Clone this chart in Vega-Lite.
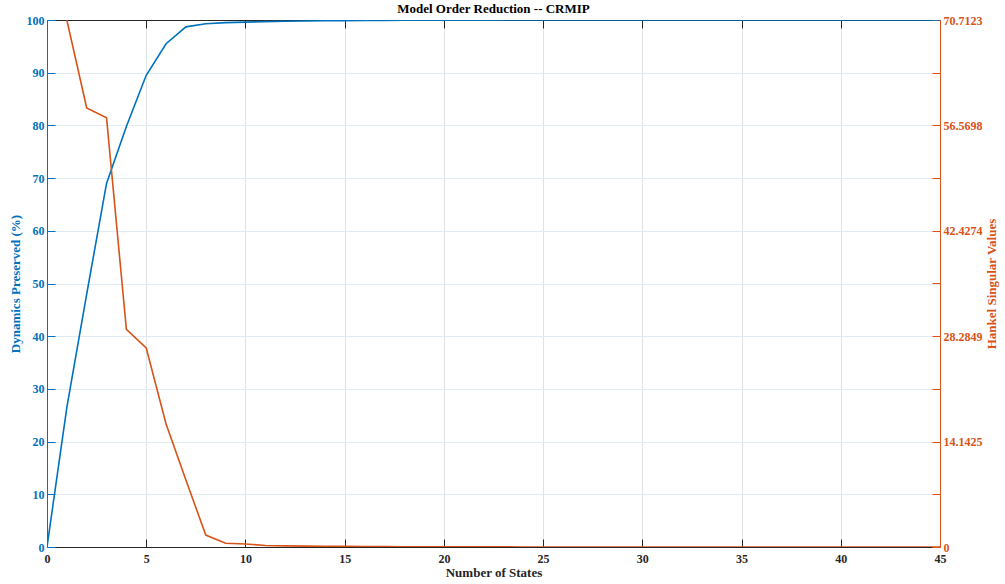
{
  "$schema": "https://vega.github.io/schema/vega-lite/v6.json",
  "width": 893,
  "height": 527,
  "autosize": {"type": "none"},
  "padding": {"left": 47, "top": 20, "right": 65, "bottom": 37},
  "background": "white",
  "title": {"text": "Model Order Reduction -- CRMIP", "font": "Liberation Serif", "fontSize": 13, "fontWeight": "bold", "color": "#000000", "offset": -2, "anchor": "middle"},
  "config": {
    "view": {"stroke": null},
    "axis": {"labelFont": "Liberation Serif", "titleFont": "Liberation Serif", "labelFontWeight": "bold", "titleFontWeight": "bold", "labelFontSize": 12, "titleFontSize": 13, "tickSize": -8, "tickWidth": 1, "domainWidth": 1}
  },
  "data": {"values": [
    {"n": 0, "preserved": 0, "hsv": null},
    {"n": 1, "preserved": 26.5, "hsv": 70.7123},
    {"n": 2, "preserved": 48.0, "hsv": 58.9},
    {"n": 3, "preserved": 69.0, "hsv": 57.6},
    {"n": 4, "preserved": 79.8, "hsv": 29.2},
    {"n": 5, "preserved": 89.5, "hsv": 26.7},
    {"n": 6, "preserved": 95.5, "hsv": 16.5},
    {"n": 7, "preserved": 98.7, "hsv": 9.0},
    {"n": 8, "preserved": 99.3, "hsv": 1.6},
    {"n": 9, "preserved": 99.5, "hsv": 0.5},
    {"n": 10, "preserved": 99.6, "hsv": 0.4},
    {"n": 11, "preserved": 99.7, "hsv": 0.2},
    {"n": 12, "preserved": 99.76, "hsv": 0.15},
    {"n": 13, "preserved": 99.81, "hsv": 0.12},
    {"n": 14, "preserved": 99.85, "hsv": 0.1},
    {"n": 15, "preserved": 99.88, "hsv": 0.08},
    {"n": 16, "preserved": 99.91, "hsv": 0.06},
    {"n": 17, "preserved": 99.93, "hsv": 0.05},
    {"n": 18, "preserved": 99.95, "hsv": 0.04},
    {"n": 19, "preserved": 99.96, "hsv": 0.03},
    {"n": 20, "preserved": 99.97, "hsv": 0.025},
    {"n": 21, "preserved": 99.98, "hsv": 0.02},
    {"n": 22, "preserved": 99.985, "hsv": 0.016},
    {"n": 23, "preserved": 99.99, "hsv": 0.013},
    {"n": 24, "preserved": 99.993, "hsv": 0.01},
    {"n": 25, "preserved": 99.995, "hsv": 0.008},
    {"n": 26, "preserved": 99.996, "hsv": 0.006},
    {"n": 27, "preserved": 99.997, "hsv": 0.005},
    {"n": 28, "preserved": 99.998, "hsv": 0.004},
    {"n": 29, "preserved": 99.999, "hsv": 0.003},
    {"n": 30, "preserved": 99.999, "hsv": 0.002},
    {"n": 31, "preserved": 100, "hsv": 0.002},
    {"n": 32, "preserved": 100, "hsv": 0.001},
    {"n": 33, "preserved": 100, "hsv": 0.001},
    {"n": 34, "preserved": 100, "hsv": 0.001},
    {"n": 35, "preserved": 100, "hsv": 0.0005},
    {"n": 36, "preserved": 100, "hsv": 0.0005},
    {"n": 37, "preserved": 100, "hsv": 0.0003},
    {"n": 38, "preserved": 100, "hsv": 0.0002},
    {"n": 39, "preserved": 100, "hsv": 0.0001},
    {"n": 40, "preserved": 100, "hsv": 0.0001},
    {"n": 41, "preserved": 100, "hsv": 0.0001},
    {"n": 42, "preserved": 100, "hsv": 0.0},
    {"n": 43, "preserved": 100, "hsv": 0.0},
    {"n": 44, "preserved": 100, "hsv": 0.0},
    {"n": 45, "preserved": 100, "hsv": 0.0}
  ]},
  "layer": [
    {
      "mark": {"type": "line", "color": "#0072BD", "strokeWidth": 1.6, "clip": true},
      "encoding": {
        "x": {"field": "n", "type": "quantitative", "scale": {"domain": [0, 45], "nice": false, "zero": false},
          "axis": {"orient": "bottom", "title": "Number of States", "values": [0,5,10,15,20,25,30,35,40,45], "labelColor": "#262626", "titleColor": "#262626", "domainColor": "#262626", "tickColor": "#262626", "labelPadding": 14, "titlePadding": 2, "grid": true, "gridColor": "#dfe3e8", "labelFlush": false}},
        "y": {"field": "preserved", "type": "quantitative", "scale": {"domain": [0, 100], "nice": false},
          "axis": {"orient": "left", "title": "Dynamics Preserved (%)", "values": [0,10,20,30,40,50,60,70,80,90,100], "labelColor": "#0072BD", "titleColor": "#0072BD", "domainColor": "#0072BD", "tickColor": "#0072BD", "labelPadding": 11, "titlePadding": 4, "grid": true, "gridColor": "#e1ebf4"}}
      }
    },
    {
      "mark": {"type": "line", "color": "#D95319", "strokeWidth": 1.6, "clip": true},
      "encoding": {
        "x": {"field": "n", "type": "quantitative", "scale": {"domain": [0, 45], "nice": false, "zero": false},
          "axis": {"orient": "top", "title": null, "labels": false, "values": [0,5,10,15,20,25,30,35,40,45], "domainColor": "#262626", "tickColor": "#262626", "grid": false}},
        "y": {"field": "hsv", "type": "quantitative", "scale": {"domain": [0, 70.7123], "nice": false},
          "axis": {"orient": "right", "title": "Hankel Singular Values", "titleAngle": 270, "values": [0, 7.07123, 14.1425, 21.2137, 28.2849, 35.3562, 42.4274, 49.4986, 56.5698, 63.6411, 70.7123],
            "labelExpr": "round(datum.value / 7.07123) % 2 == 0 ? (datum.value == 0 ? '0' : format(datum.value, '.4f')) : ''",
            "labelColor": "#D95319", "titleColor": "#D95319", "domainColor": "#D95319", "tickColor": "#D95319", "labelPadding": 11, "titlePadding": 16, "grid": false}}
      }
    }
  ],
  "resolve": {"scale": {"y": "independent", "x": "shared"}, "axis": {"x": "independent", "y": "independent"}}
}
